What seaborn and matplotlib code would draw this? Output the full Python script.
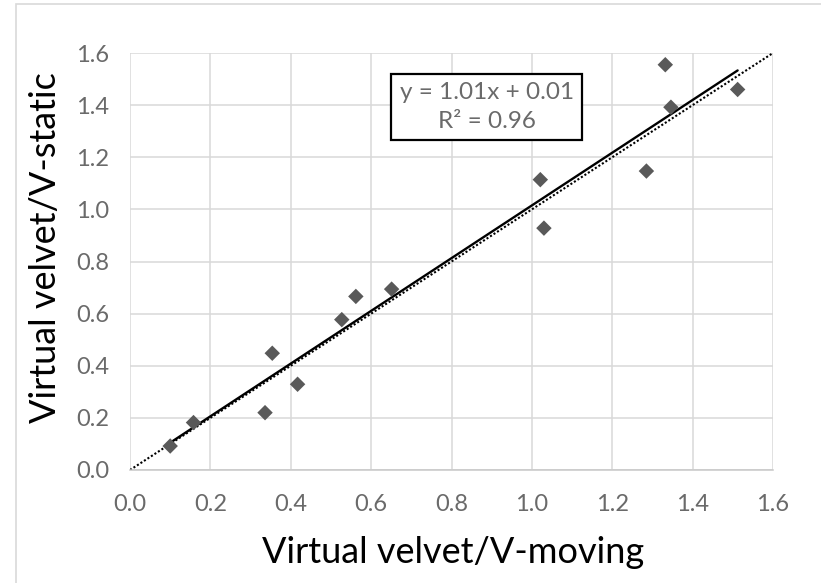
import numpy as np
import pandas as pd
import matplotlib
matplotlib.use("Agg")
import matplotlib.pyplot as plt
import seaborn as sns
from matplotlib.patches import Rectangle

# ---- data ----
v_moving = [0.10, 0.158, 0.336, 0.354, 0.417, 0.527, 0.562, 0.651,
            1.021, 1.030, 1.285, 1.332, 1.346, 1.512]
v_static = [0.092, 0.182, 0.220, 0.448, 0.329, 0.577, 0.666, 0.694,
            1.114, 0.928, 1.147, 1.555, 1.392, 1.460]
tick_vals = [0.0, 0.2, 0.4, 0.6, 0.8, 1.0, 1.2, 1.4, 1.6]
tick_labels = ["0.0", "0.2", "0.4", "0.6", "0.8", "1.0", "1.2", "1.4", "1.6"]
eq_text = "y = 1.01x + 0.01\nR\u00b2 = 0.96"
x_label = "Virtual velvet/V-moving"
y_label = "Virtual velvet/V-static"

df = pd.DataFrame({"moving": v_moving, "static": v_static})

sns.set_theme(style="white")
plt.rcParams["font.family"] = ["Lato", "DejaVu Sans"]

W, H = 821, 583
fig = plt.figure(figsize=(W / 100, H / 100), dpi=100)
L, R, T, B = 130, 773, 53, 470
ax = fig.add_axes([L / W, 1 - B / H, (R - L) / W, (B - T) / H])

# figure border (Excel chart area), partially cropped
fig.patches.append(Rectangle((16 / W, -0.1), 1.2, 1 - 4 / H + 0.1,
                             transform=fig.transFigure, fill=False,
                             edgecolor="#d9d9d9", linewidth=1.2))

grid_c = "#d9d9d9"
ax.set_xlim(0, 1.6)
ax.set_ylim(0, 1.6)
ax.set_xticks(tick_vals)
ax.set_xticklabels(tick_labels)
ax.set_yticks(tick_vals)
ax.set_yticklabels(tick_labels)
ax.grid(True, color=grid_c, linewidth=1.1)
ax.set_axisbelow(True)
for s in ["top", "right", "left"]:
    ax.spines[s].set_visible(False)
ax.spines["bottom"].set_color("#c8c8c8")
ax.spines["bottom"].set_linewidth(1.1)
ax.tick_params(axis="x", length=0, pad=17, labelsize=17, labelcolor="#6a6a6a")
ax.tick_params(axis="y", length=0, pad=15, labelsize=17, labelcolor="#6a6a6a")

# y = x dotted reference line
ax.axline((0, 0), slope=1, color="black", linestyle=(0, (1, 1.0)),
          linewidth=1.5, zorder=2)

# linear trend line
sns.regplot(data=df, x="moving", y="static", ax=ax, scatter=False, ci=None,
            truncate=True, line_kws=dict(color="black", linewidth=1.7, zorder=3))

# points
sns.scatterplot(data=df, x="moving", y="static", ax=ax, marker="D", s=62,
                color="#595959", edgecolor="none", linewidth=0, zorder=4)

ax.set_xlabel("")
ax.set_ylabel("")

ax.text(0.888, 1.393, eq_text, ha="center", va="center", fontsize=17.5,
        color="#6a6a6a", linespacing=1.45, zorder=5,
        bbox=dict(boxstyle="square,pad=0.35", facecolor="white",
                  edgecolor="black", linewidth=1.6))

fig.text(453 / W, 1 - 563 / H, x_label, ha="center", va="baseline",
         fontsize=26, color="black")
fig.text(46 / W, 1 - 248 / H, y_label, ha="center", va="center",
         rotation=90, fontsize=26, color="black")

fig.savefig("out.png", dpi=100)
